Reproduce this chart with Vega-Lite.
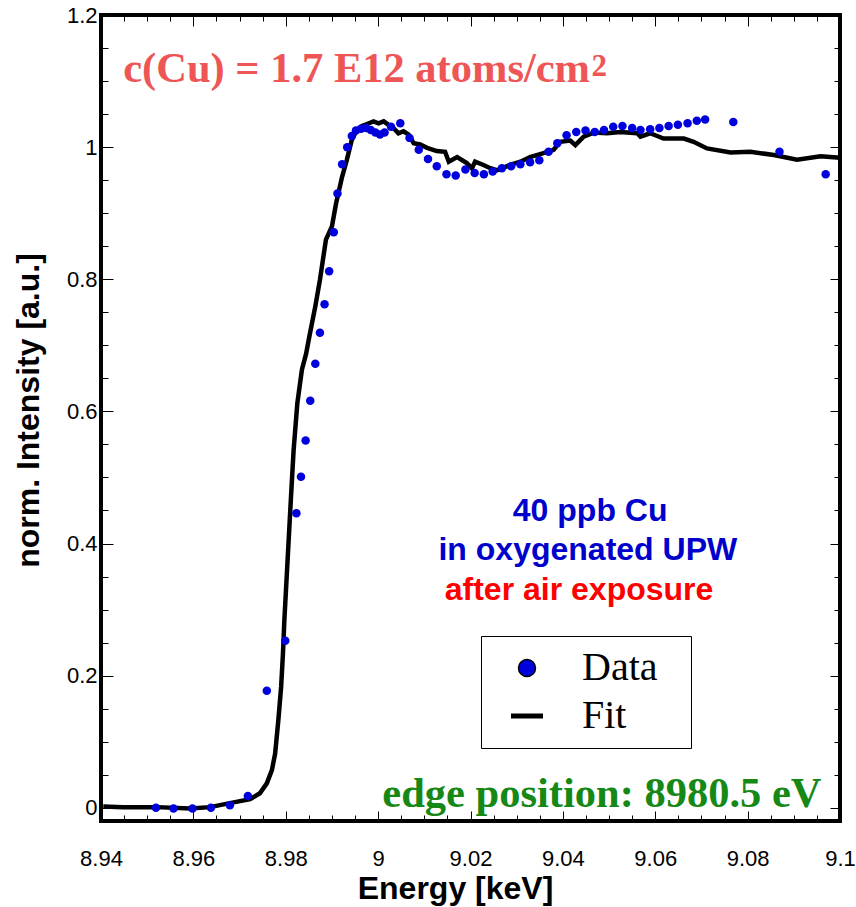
{
  "$schema": "https://vega.github.io/schema/vega-lite/v6.json",
  "autosize": "none",
  "width": 739,
  "height": 806,
  "padding": {"left": 101, "top": 15, "right": 16, "bottom": 86},
  "background": "white",
  "config": {
    "view": {"stroke": "black", "strokeWidth": 4},
    "axis": {
      "domain": false,
      "grid": false,
      "tickColor": "black",
      "tickWidth": 1,
      "labelFont": "Liberation Sans",
      "labelFontSize": 22,
      "labelColor": "black",
      "titleFont": "Liberation Sans",
      "titleFontSize": 32,
      "titleFontWeight": "bold",
      "titleColor": "black"
    }
  },
  "datasets": {
    "fit": [
      {"E": 8.9405, "I": 0.002}, {"E": 8.9448, "I": 0.001}, {"E": 8.9521, "I": 0.001}, {"E": 8.9593, "I": -0.001},
      {"E": 8.9636, "I": 0.001}, {"E": 8.9679, "I": 0.007}, {"E": 8.9723, "I": 0.013}, {"E": 8.9744, "I": 0.022},
      {"E": 8.9759, "I": 0.037}, {"E": 8.977, "I": 0.057}, {"E": 8.9777, "I": 0.082}, {"E": 8.9784, "I": 0.133},
      {"E": 8.979, "I": 0.183}, {"E": 8.9794, "I": 0.234}, {"E": 8.9797, "I": 0.284}, {"E": 8.9811, "I": 0.466},
      {"E": 8.9817, "I": 0.541}, {"E": 8.9825, "I": 0.612}, {"E": 8.9835, "I": 0.663}, {"E": 8.9844, "I": 0.687},
      {"E": 8.9851, "I": 0.713}, {"E": 8.9864, "I": 0.759}, {"E": 8.9874, "I": 0.799}, {"E": 8.9887, "I": 0.86},
      {"E": 8.99, "I": 0.88}, {"E": 8.9909, "I": 0.915}, {"E": 8.9922, "I": 0.955}, {"E": 8.9932, "I": 0.98},
      {"E": 8.9943, "I": 1.011}, {"E": 8.9954, "I": 1.026}, {"E": 8.9965, "I": 1.032}, {"E": 8.9976, "I": 1.035},
      {"E": 8.999, "I": 1.039}, {"E": 9.0001, "I": 1.036}, {"E": 9.0012, "I": 1.039}, {"E": 9.0022, "I": 1.034},
      {"E": 9.0033, "I": 1.029}, {"E": 9.0044, "I": 1.021}, {"E": 9.0055, "I": 1.024}, {"E": 9.0066, "I": 1.019},
      {"E": 9.0077, "I": 1.006}, {"E": 9.0091, "I": 1.004}, {"E": 9.0106, "I": 0.999}, {"E": 9.0127, "I": 0.994},
      {"E": 9.0145, "I": 0.993}, {"E": 9.0153, "I": 0.978}, {"E": 9.0171, "I": 0.985}, {"E": 9.0192, "I": 0.976},
      {"E": 9.0203, "I": 0.968}, {"E": 9.021, "I": 0.978}, {"E": 9.0228, "I": 0.973}, {"E": 9.0243, "I": 0.968},
      {"E": 9.0257, "I": 0.965}, {"E": 9.0286, "I": 0.973}, {"E": 9.0308, "I": 0.978}, {"E": 9.0329, "I": 0.985},
      {"E": 9.0358, "I": 0.991}, {"E": 9.038, "I": 0.996}, {"E": 9.0394, "I": 1.008}, {"E": 9.0416, "I": 1.01},
      {"E": 9.0427, "I": 1.003}, {"E": 9.0445, "I": 1.016}, {"E": 9.0467, "I": 1.022}, {"E": 9.0496, "I": 1.021},
      {"E": 9.0524, "I": 1.023}, {"E": 9.0561, "I": 1.021}, {"E": 9.0568, "I": 1.016}, {"E": 9.0589, "I": 1.021},
      {"E": 9.06, "I": 1.018}, {"E": 9.0618, "I": 1.013}, {"E": 9.0662, "I": 1.013}, {"E": 9.0683, "I": 1.008},
      {"E": 9.0712, "I": 0.998}, {"E": 9.0763, "I": 0.992}, {"E": 9.0806, "I": 0.993}, {"E": 9.0857, "I": 0.988},
      {"E": 9.0907, "I": 0.981}, {"E": 9.0958, "I": 0.986}, {"E": 9.1, "I": 0.984}
    ],
    "points": [
      {"E": 8.9519, "I": 0.0, "s": "Data"}, {"E": 8.9557, "I": -0.001, "s": "Data"}, {"E": 8.9598, "I": -0.001, "s": "Data"},
      {"E": 8.9638, "I": 0.0, "s": "Data"}, {"E": 8.9679, "I": 0.004, "s": "Data"}, {"E": 8.9718, "I": 0.018, "s": "Data"},
      {"E": 8.9759, "I": 0.177, "s": "Data"}, {"E": 8.9799, "I": 0.253, "s": "Data"}, {"E": 8.9823, "I": 0.446, "s": "Data"},
      {"E": 8.9833, "I": 0.501, "s": "Data"}, {"E": 8.9843, "I": 0.556, "s": "Data"}, {"E": 8.9853, "I": 0.616, "s": "Data"},
      {"E": 8.9864, "I": 0.672, "s": "Data"}, {"E": 8.9874, "I": 0.719, "s": "Data"}, {"E": 8.9884, "I": 0.762, "s": "Data"},
      {"E": 8.9894, "I": 0.812, "s": "Data"}, {"E": 8.9904, "I": 0.871, "s": "Data"}, {"E": 8.9912, "I": 0.93, "s": "Data"},
      {"E": 8.9922, "I": 0.974, "s": "Data"}, {"E": 8.9933, "I": 1.0, "s": "Data"}, {"E": 8.9943, "I": 1.017, "s": "Data"},
      {"E": 8.9952, "I": 1.025, "s": "Data"}, {"E": 8.9963, "I": 1.028, "s": "Data"}, {"E": 8.9974, "I": 1.029, "s": "Data"},
      {"E": 8.9984, "I": 1.026, "s": "Data"}, {"E": 8.9994, "I": 1.022, "s": "Data"}, {"E": 9.0004, "I": 1.019, "s": "Data"},
      {"E": 9.0014, "I": 1.022, "s": "Data"}, {"E": 9.0028, "I": 1.031, "s": "Data"}, {"E": 9.0048, "I": 1.036, "s": "Data"},
      {"E": 9.0068, "I": 1.014, "s": "Data"}, {"E": 9.0088, "I": 0.996, "s": "Data"}, {"E": 9.0108, "I": 0.982, "s": "Data"},
      {"E": 9.0127, "I": 0.971, "s": "Data"}, {"E": 9.0148, "I": 0.959, "s": "Data"}, {"E": 9.0168, "I": 0.957, "s": "Data"},
      {"E": 9.0189, "I": 0.966, "s": "Data"}, {"E": 9.0209, "I": 0.961, "s": "Data"}, {"E": 9.0229, "I": 0.959, "s": "Data"},
      {"E": 9.0248, "I": 0.963, "s": "Data"}, {"E": 9.0268, "I": 0.968, "s": "Data"}, {"E": 9.0288, "I": 0.971, "s": "Data"},
      {"E": 9.0308, "I": 0.974, "s": "Data"}, {"E": 9.0329, "I": 0.977, "s": "Data"}, {"E": 9.0349, "I": 0.98, "s": "Data"},
      {"E": 9.0369, "I": 0.993, "s": "Data"}, {"E": 9.0388, "I": 1.006, "s": "Data"}, {"E": 9.0408, "I": 1.018, "s": "Data"},
      {"E": 9.0429, "I": 1.023, "s": "Data"}, {"E": 9.0449, "I": 1.025, "s": "Data"}, {"E": 9.0469, "I": 1.023, "s": "Data"},
      {"E": 9.0489, "I": 1.026, "s": "Data"}, {"E": 9.0509, "I": 1.031, "s": "Data"}, {"E": 9.0529, "I": 1.032, "s": "Data"},
      {"E": 9.055, "I": 1.029, "s": "Data"}, {"E": 9.0568, "I": 1.026, "s": "Data"}, {"E": 9.0589, "I": 1.027, "s": "Data"},
      {"E": 9.0609, "I": 1.029, "s": "Data"}, {"E": 9.0629, "I": 1.032, "s": "Data"}, {"E": 9.0649, "I": 1.034, "s": "Data"},
      {"E": 9.067, "I": 1.036, "s": "Data"}, {"E": 9.069, "I": 1.04, "s": "Data"}, {"E": 9.0708, "I": 1.042, "s": "Data"},
      {"E": 9.0769, "I": 1.038, "s": "Data"}, {"E": 9.0869, "I": 0.993, "s": "Data"}, {"E": 9.0969, "I": 0.959, "s": "Data"}
    ]
  },
  "resolve": {"axis": {"x": "independent", "y": "independent"}},
  "layer": [
    {
      "data": {"name": "fit"},
      "mark": {"type": "line", "color": "black", "strokeWidth": 4.5, "strokeJoin": "miter"},
      "encoding": {
        "x": {
          "field": "E", "type": "quantitative",
          "scale": {"domain": [8.94, 9.1], "nice": false, "zero": false},
          "axis": {
            "orient": "bottom",
            "title": "Energy [keV]",
            "titleX": 354,
            "titlePadding": 0,
            "values": [8.94, 8.945, 8.95, 8.955, 8.96, 8.965, 8.97, 8.975, 8.98, 8.985, 8.99, 8.995, 9.0, 9.005, 9.01, 9.015, 9.02, 9.025, 9.03, 9.035, 9.04, 9.045, 9.05, 9.055, 9.06, 9.065, 9.07, 9.075, 9.08, 9.085, 9.09, 9.095, 9.1],
            "labelExpr": "abs(datum.value*50 - round(datum.value*50)) < 0.01 ? format(datum.value, '~g') : ''",
            "tickSize": {"condition": {"test": "abs(datum.value*50 - round(datum.value*50)) < 0.01", "value": -10}, "value": -6},
            "labelPadding": 37,
            "labelFlush": false,
            "labelOverlap": false
          }
        },
        "y": {
          "field": "I", "type": "quantitative",
          "scale": {"domain": [-0.02, 1.2], "nice": false, "zero": false},
          "axis": {
            "orient": "left",
            "title": "norm. Intensity [a.u.]",
            "titlePadding": 21,
            "titleY": 395,
            "values": [0, 0.05, 0.1, 0.15, 0.2, 0.25, 0.3, 0.35, 0.4, 0.45, 0.5, 0.55, 0.6, 0.65, 0.7, 0.75, 0.8, 0.85, 0.9, 0.95, 1.0, 1.05, 1.1, 1.15, 1.2],
            "labelExpr": "abs(datum.value*5 - round(datum.value*5)) < 0.01 ? format(datum.value, '~g') : ''",
            "tickSize": {"condition": {"test": "abs(datum.value*5 - round(datum.value*5)) < 0.01", "value": -12}, "value": -7},
            "labelPadding": 16,
            "labelFlush": false,
            "labelOverlap": false
          }
        }
      }
    },
    {
      "data": {"name": "points"},
      "mark": {"type": "point", "filled": true, "shape": "circle", "size": 72, "opacity": 1},
      "encoding": {
        "x": {
          "field": "E", "type": "quantitative",
          "axis": {
            "orient": "top", "title": null, "labels": false,
            "values": [8.94, 8.945, 8.95, 8.955, 8.96, 8.965, 8.97, 8.975, 8.98, 8.985, 8.99, 8.995, 9.0, 9.005, 9.01, 9.015, 9.02, 9.025, 9.03, 9.035, 9.04, 9.045, 9.05, 9.055, 9.06, 9.065, 9.07, 9.075, 9.08, 9.085, 9.09, 9.095, 9.1],
            "tickSize": {"condition": {"test": "abs(datum.value*50 - round(datum.value*50)) < 0.01", "value": -11}, "value": -6}
          }
        },
        "y": {
          "field": "I", "type": "quantitative",
          "axis": {
            "orient": "right", "title": null, "labels": false,
            "values": [0, 0.05, 0.1, 0.15, 0.2, 0.25, 0.3, 0.35, 0.4, 0.45, 0.5, 0.55, 0.6, 0.65, 0.7, 0.75, 0.8, 0.85, 0.9, 0.95, 1.0, 1.05, 1.1, 1.15, 1.2],
            "tickSize": {"condition": {"test": "abs(datum.value*5 - round(datum.value*5)) < 0.01", "value": -10}, "value": -6}
          }
        },
        "color": {
          "field": "s", "type": "nominal",
          "scale": {"domain": ["Data", "Fit"], "range": ["#0000dd", "black"]},
          "legend": {
            "orient": "none",
            "legendX": 380,
            "legendY": 621,
            "title": ".",
            "titleOrient": "right",
            "titleFontSize": 2,
            "titleColor": "rgba(0,0,0,0)",
            "titlePadding": 20,
            "strokeColor": "black",
            "fillColor": "white",
            "padding": 12,
            "rowPadding": 8,
            "symbolSize": 1024,
            "symbolOffset": 14,
            "labelFont": "Liberation Serif",
            "labelFontSize": 40,
            "labelColor": "black",
            "labelOffset": 35,
            "encoding": {
              "symbols": {
                "shape": {"value": {"expr": "datum.value === 'Data' ? 'circle' : 'stroke'"}},
                "fill": {"value": {"expr": "datum.value === 'Data' ? '#3c3cd2' : 'transparent'"}},
                "stroke": {"value": "black"},
                "strokeWidth": {"value": {"expr": "datum.value === 'Data' ? 1.5 : 5"}},
                "size": {"value": {"expr": "datum.value === 'Data' ? 289 : 1024"}},
                "opacity": {"value": 1}
              }
            }
          }
        }
      }
    },
    {
      "data": {"values": [{"t": "c(Cu) = 1.7 E12 atoms/cm"}]},
      "mark": {"type": "text", "font": "Liberation Serif", "fontWeight": "bold", "fontSize": 42.5, "color": "#ee5555", "align": "left", "baseline": "alphabetic"},
      "encoding": {"text": {"field": "t"}, "x": {"datum": 8.9448, "type": "quantitative", "axis": null}, "y": {"datum": 1.0985, "type": "quantitative", "axis": null}}
    },
    {
      "data": {"values": [{"t": "2"}]},
      "mark": {"type": "text", "font": "Liberation Serif", "fontWeight": "bold", "fontSize": 31, "color": "#ee5555", "align": "left", "baseline": "alphabetic"},
      "encoding": {"text": {"field": "t"}, "x": {"datum": 9.0462, "type": "quantitative", "axis": null}, "y": {"datum": 1.1075, "type": "quantitative", "axis": null}}
    },
    {
      "data": {"values": [{"t": "40 ppb Cu"}]},
      "mark": {"type": "text", "font": "Liberation Sans", "fontWeight": "bold", "fontSize": 32, "color": "#0000cc", "align": "center", "baseline": "alphabetic"},
      "encoding": {"text": {"field": "t"}, "x": {"datum": 9.0459, "type": "quantitative", "axis": null}, "y": {"datum": 0.434, "type": "quantitative", "axis": null}}
    },
    {
      "data": {"values": [{"t": "in oxygenated UPW"}]},
      "mark": {"type": "text", "font": "Liberation Sans", "fontWeight": "bold", "fontSize": 32, "color": "#0000cc", "align": "center", "baseline": "alphabetic"},
      "encoding": {"text": {"field": "t"}, "x": {"datum": 9.0454, "type": "quantitative", "axis": null}, "y": {"datum": 0.375, "type": "quantitative", "axis": null}}
    },
    {
      "data": {"values": [{"t": "after air exposure"}]},
      "mark": {"type": "text", "font": "Liberation Sans", "fontWeight": "bold", "fontSize": 32, "color": "#ff0000", "align": "center", "baseline": "alphabetic"},
      "encoding": {"text": {"field": "t"}, "x": {"datum": 9.0435, "type": "quantitative", "axis": null}, "y": {"datum": 0.3145, "type": "quantitative", "axis": null}}
    },
    {
      "data": {"values": [{"t": "edge position: 8980.5 eV"}]},
      "mark": {"type": "text", "font": "Liberation Serif", "fontWeight": "bold", "fontSize": 42.5, "color": "#168816", "align": "right", "baseline": "alphabetic"},
      "encoding": {"text": {"field": "t"}, "x": {"datum": 9.096, "type": "quantitative", "axis": null}, "y": {"datum": 0.001, "type": "quantitative", "axis": null}}
    }
  ]
}
